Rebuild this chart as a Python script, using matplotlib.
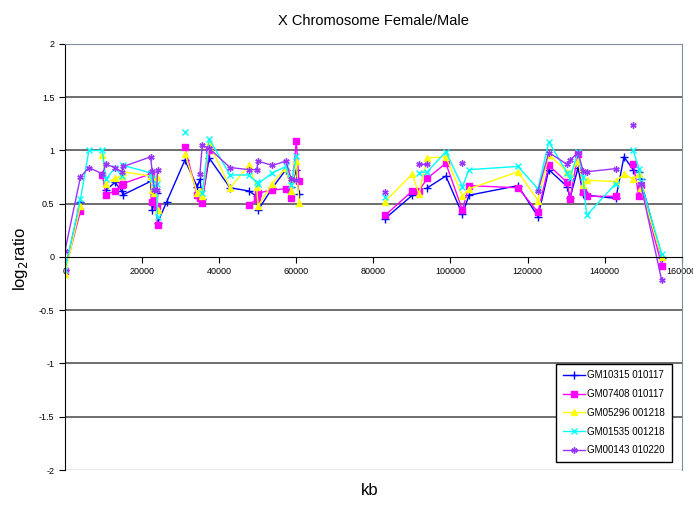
import numpy as np
import matplotlib
matplotlib.use('Agg')
import matplotlib.pyplot as plt
from matplotlib.transforms import ScaledTranslation

plt.rcParams['font.family'] = ['Liberation Sans', 'DejaVu Sans']

nan = np.nan

# positions along the X chromosome (kb)
kb = [0, 4000, 6200, 9700, 10600, 13000, 14700, 15100, 22200, 22600,
      23200, 23800, 24000, 26400, 31100, 34300, 35000, 35600, 37400, 42800,
      47700, 49700, 50100, 53800, 57300, 58700, 60000, 60700, 72000, 83000,
      90100, 91800, 94000, 98800, 103100, 104800, 117500, 122700, 125500, 130300,
      131000, 133100, 134400, 135300, 142900, 145000, 147400, 148900, 149300, 154800]

gm10315 = [-0.12, 0.52, nan, nan, 0.63, 0.70, 0.62, 0.585, 0.71, 0.44,
           0.51, 0.60, 0.32, 0.52, 0.91, 0.66, 0.73, 0.54, 0.93, 0.65,
           0.62, 0.57, 0.44, 0.65, 0.82, 0.66, 0.82, 0.59, nan, 0.36,
           0.58, nan, 0.65, 0.76, 0.40, 0.58, 0.67, 0.38, 0.82, 0.66,
           0.55, 0.84, 0.59, 0.58, 0.55, 0.94, 0.82, 0.80, 0.73, -0.01]

gm07408 = [-0.13, 0.43, nan, 0.77, 0.585, 0.62, 0.68, 0.69, 0.78, 0.52,
           0.57, 0.48, 0.30, nan, 1.03, 0.58, 0.55, 0.51, 1.00, nan,
           0.49, 0.54, 0.60, 0.63, 0.64, 0.55, 1.09, 0.71, nan, 0.39,
           0.62, 0.62, 0.74, 0.88, 0.44, 0.67, 0.65, 0.42, 0.86, 0.70,
           0.54, 0.97, 0.61, 0.57, 0.57, nan, 0.87, 0.57, 0.68, -0.08]

gm05296 = [-0.16, 0.48, nan, 0.96, 0.69, 0.74, 0.76, 0.80, 0.76, 0.63,
           0.60, 0.75, 0.44, nan, 0.97, 0.60, 0.62, 0.57, 1.07, 0.65,
           0.86, 0.66, 0.48, 0.69, 0.84, 0.62, 0.90, 0.51, nan, 0.52,
           0.78, 0.59, 0.93, 0.94, 0.57, 0.64, 0.80, 0.53, 0.96, 0.80,
           0.78, 0.90, 0.68, 0.72, 0.71, 0.78, 0.73, 0.78, 0.65, 0.00]

gm01535 = [-0.12, 0.54, 1.00, 1.00, 0.73, 0.84, 0.76, 0.86, 0.79, 0.73,
           0.66, 0.69, 0.38, nan, 1.17, nan, nan, 0.60, 1.11, 0.77,
           0.77, 0.70, 0.69, 0.79, 0.85, 0.68, 0.95, nan, nan, 0.56,
           nan, 0.79, 0.80, 0.99, 0.66, 0.82, 0.85, 0.64, 1.08, 0.79,
           0.74, 0.99, 0.75, 0.39, 0.69, nan, 1.00, 0.83, 0.71, 0.03]

gm00143 = [0.06, 0.75, 0.84, 0.78, 0.87, 0.84, 0.80, 0.85, 0.94, 0.81,
           0.63, 0.63, 0.82, nan, nan, nan, 0.78, 1.05, 1.02, 0.84,
           0.82, 0.82, 0.90, 0.86, 0.90, 0.73, 0.72, nan, nan, 0.61,
           nan, 0.87, 0.87, nan, 0.88, nan, nan, 0.62, 0.98, 0.87,
           0.91, 0.98, 0.81, 0.80, 0.83, nan, 1.24, nan, 0.69, -0.22]

names = ['GM10315 010117', 'GM07408 010117', 'GM05296 001218',
         'GM01535 001218', 'GM00143 010220']


def main():
    fig = plt.figure(figsize=(6.93, 5.08), dpi=100)
    ax = fig.add_axes([0.0938, 0.0748, 0.890, 0.8386])

    for y in [-1.5, -1, -0.5, 0.5, 1, 1.5]:
        ax.axhline(y, color='#555555', lw=1.2, zorder=0)

    series = [gm10315, gm07408, gm05296, gm01535, gm00143]
    colors = ['#0000ff', '#ff00ff', '#ffff00', '#00ffff', '#9933ff']
    markers = ['+', 's', '^', 'x', (6, 2, 0)]
    sizes = [6, 5, 5, 4.5, 4.5]
    for vals, c, m, s, n in zip(series, colors, markers, sizes, names):
        ax.plot(kb, vals, color=c, marker=m, markersize=s, lw=1,
                markeredgewidth=1, label=n)

    ax.set_xlim(0, 160000)
    ax.set_ylim(-2, 2)
    ax.set_xticks(range(0, 160001, 20000))
    ax.set_yticks(np.arange(-2, 2.01, 0.5))
    ax.set_yticklabels(['-2', '-1.5', '-1', '-0.5', '0', '0.5', '1', '1.5', '2'])
    ax.tick_params(labelsize=6.5, direction='out', length=4)
    last = ax.get_xticklabels()[-1]
    last.set_transform(last.get_transform() + ScaledTranslation(-0.04, 0, fig.dpi_scale_trans))

    ax.spines['bottom'].set_position(('data', 0))
    ax.spines['bottom'].set_color('black')
    ax.spines['left'].set_color('black')
    ax.spines['top'].set_color('#7f8f9f')
    ax.spines['right'].set_color('#7f8f9f')
    ax.axhline(-2, color='#7f8f9f', lw=1, zorder=0)

    ax.set_title('X Chromosome Female/Male', fontsize=10.5, pad=14)
    fig.text(0.534, 0.025, 'kb', fontsize=12, ha='center')
    fig.text(0.03, 0.49, 'log$_2$ratio', fontsize=12, rotation=90,
             ha='center', va='center')

    leg = ax.legend(loc='lower right', bbox_to_anchor=(0.992, 0.007),
                    fontsize=7, fancybox=False, framealpha=1,
                    edgecolor='black', borderpad=0.7, labelspacing=0.9,
                    handlelength=2.2, handletextpad=0.3)
    leg.get_frame().set_linewidth(1)

    fig.savefig('out.png', dpi=100)


if __name__ == '__main__':
    main()
